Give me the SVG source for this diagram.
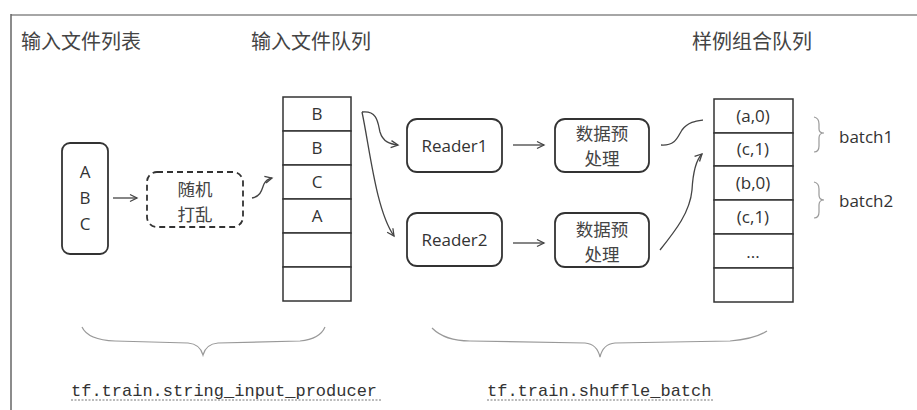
<svg xmlns="http://www.w3.org/2000/svg" width="917" height="410" viewBox="0 0 917 410">
<style>
.box{fill:none;stroke:#333;stroke-width:1.8}
.cell{fill:#fff;stroke:#333;stroke-width:1.5}
.con{fill:none;stroke:#444;stroke-width:1.3}
.brace{fill:none;stroke:#999;stroke-width:1.2}
.zh{font-family:"Noto Sans CJK SC",sans-serif;fill:#444}
.en{font-family:"Open Sans","Noto Sans",sans-serif;fill:#333;font-size:17px}
.mono{font-family:"Liberation Mono",monospace;fill:#333;font-size:17px}
</style>
<defs>
<marker id="ah" markerWidth="10" markerHeight="10" refX="8" refY="5" orient="auto" markerUnits="userSpaceOnUse">
<path d="M1,1.5 L8,5 L1,8.5" fill="none" stroke="#444" stroke-width="1.3"/>
</marker>
</defs>
<rect width="917" height="410" fill="#fff"/>
<g id="frame">
<line x1="11" y1="15" x2="917" y2="15" stroke="#888" stroke-width="1.5"/>
<line x1="11" y1="14" x2="11" y2="410" stroke="#666" stroke-width="1.5"/>
</g>
<g id="headers">
<text class="zh" x="21" y="49" font-size="20">输入文件列表</text>
<text class="zh" x="251" y="49" font-size="20">输入文件队列</text>
<text class="zh" x="692" y="49" font-size="20">样例组合队列</text>
</g>
<g id="filelist">
<rect class="box" x="62" y="143" width="46" height="111" rx="8"/>
<text class="en" x="85" y="178" text-anchor="middle">A</text>
<text class="en" x="85" y="204" text-anchor="middle">B</text>
<text class="en" x="85" y="230" text-anchor="middle">C</text>
</g>
<g id="shuffle">
<rect class="box" x="147" y="172" width="96" height="55" rx="10" stroke-dasharray="6,4"/>
<text class="zh" x="195" y="196" font-size="17.5" text-anchor="middle">随机</text>
<text class="zh" x="195" y="221" font-size="17.5" text-anchor="middle">打乱</text>
</g>
<g id="filequeue">
<rect class="cell" x="283" y="97" width="68" height="34"/>
<rect class="cell" x="283" y="131" width="68" height="34"/>
<rect class="cell" x="283" y="165" width="68" height="34"/>
<rect class="cell" x="283" y="199" width="68" height="34"/>
<rect class="cell" x="283" y="233" width="68" height="34"/>
<rect class="cell" x="283" y="267" width="68" height="34"/>
<text class="en" x="317" y="120" text-anchor="middle">B</text>
<text class="en" x="317" y="154" text-anchor="middle">B</text>
<text class="en" x="317" y="188" text-anchor="middle">C</text>
<text class="en" x="317" y="222" text-anchor="middle">A</text>
</g>
<g id="reader1">
<rect class="box" x="407" y="119" width="95" height="53" rx="10"/>
<text class="en" x="454.5" y="152" text-anchor="middle" font-size="18.5">Reader1</text>
</g>
<g id="reader2">
<rect class="box" x="407" y="213" width="95" height="53" rx="10"/>
<text class="en" x="454.5" y="246" text-anchor="middle" font-size="18.5">Reader2</text>
</g>
<g id="prep1">
<rect class="box" x="555" y="119" width="94" height="53" rx="10"/>
<text class="zh" x="602" y="140" font-size="17.5" text-anchor="middle">数据预</text>
<text class="zh" x="602" y="165" font-size="17.5" text-anchor="middle">处理</text>
</g>
<g id="prep2">
<rect class="box" x="555" y="213" width="94" height="54" rx="10"/>
<text class="zh" x="602" y="236" font-size="17.5" text-anchor="middle">数据预</text>
<text class="zh" x="602" y="261" font-size="17.5" text-anchor="middle">处理</text>
</g>
<g id="examplequeue">
<rect class="cell" x="714" y="99" width="79" height="34"/>
<rect class="cell" x="714" y="133" width="79" height="33"/>
<rect class="cell" x="714" y="166" width="79" height="34"/>
<rect class="cell" x="714" y="200" width="79" height="34"/>
<rect class="cell" x="714" y="234" width="79" height="34"/>
<rect class="cell" x="714" y="268" width="79" height="34"/>
<text class="en" x="753" y="122" text-anchor="middle">(a,0)</text>
<text class="en" x="753" y="155" text-anchor="middle">(c,1)</text>
<text class="en" x="753" y="189" text-anchor="middle">(b,0)</text>
<text class="en" x="753" y="223" text-anchor="middle">(c,1)</text>
<text class="en" x="753" y="258" text-anchor="middle" font-size="12">...</text>
</g>
<g id="batches">
<path class="brace" d="M814,117 Q819,118 819,124 L819,129 Q819,133 824,133 Q819,133 819,138 L819,146 Q819,152 814,152"/>
<text class="en" x="839" y="143" font-size="18">batch1</text>
<path class="brace" d="M814,182 Q819,183 819,189 L819,195 Q819,200 824,200 Q819,200 819,205 L819,212 Q819,218 814,218"/>
<text class="en" x="839" y="207" font-size="18">batch2</text>
</g>
<g id="connectors">
<line class="con" x1="113" y1="198" x2="137" y2="198" marker-end="url(#ah)"/>
<path class="con" d="M252,198 C262,196 262,188 264,184 C266,180 268,179 272,178" marker-end="url(#ah)"/>
<path class="con" d="M362,112 C378,110 378,124 380,132 C383,142 390,144 398,145" marker-end="url(#ah)"/>
<path class="con" d="M362,112 C370,150 376,210 394,236" marker-end="url(#ah)"/>
<line class="con" x1="513" y1="145" x2="544" y2="145" marker-end="url(#ah)"/>
<line class="con" x1="513" y1="243" x2="544" y2="243" marker-end="url(#ah)"/>
<path class="con" d="M661,145 C676,146 678,136 682,130 C688,122 696,121 703,120"/>
<path class="con" d="M660,250 C676,230 690,212 692,190 C693,172 696,160 702,154" marker-end="url(#ah)"/>
</g>
<g id="bottom">
<path class="brace" d="M82,327 Q88,340 115,341 L188,343 Q200,344 203,355 Q206,344 218,343 L300,341 Q320,339 325,327"/>
<path class="brace" d="M432,328 Q445,341 470,341 L585,343 Q597,344 600,357 Q603,344 615,343 L730,341 Q755,339 767,331"/>
<text class="mono" x="71" y="396">tf.train.string_input_producer</text>
<line x1="71" y1="400" x2="382" y2="400" stroke="#777" stroke-width="1" stroke-dasharray="2,1.5"/>
<text class="mono" x="487" y="396">tf.train.shuffle_batch</text>
<line x1="487" y1="400" x2="714" y2="400" stroke="#777" stroke-width="1" stroke-dasharray="2,1.5"/>
</g>
</svg>
